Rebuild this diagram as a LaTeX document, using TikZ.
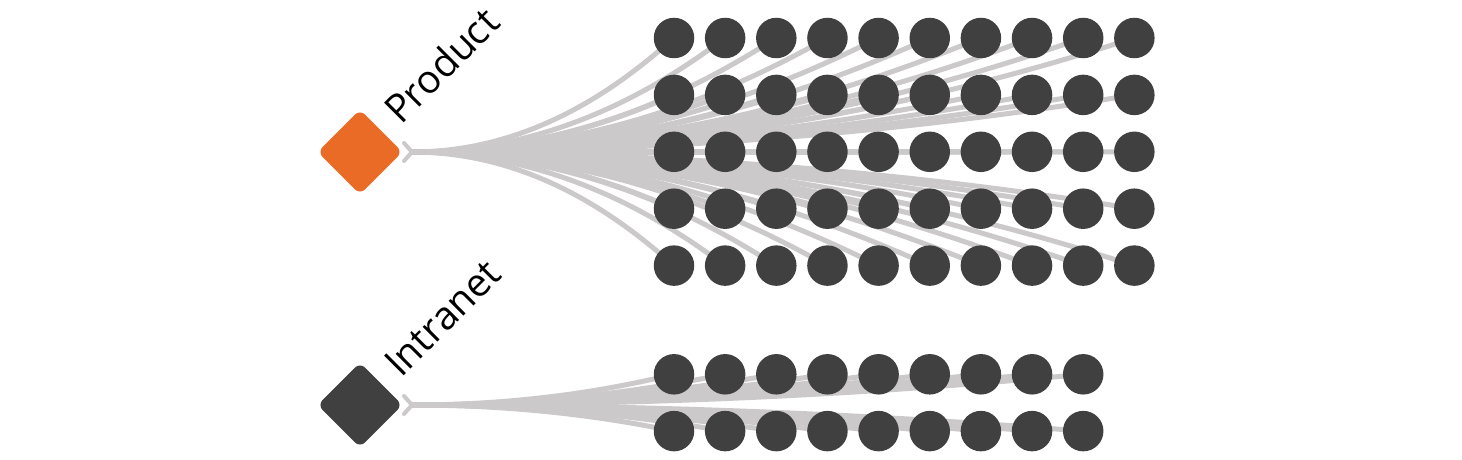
\documentclass[tikz,border=0pt]{standalone}
\usepackage{fontspec}
\setmainfont{Open Sans}
\definecolor{edgegray}{HTML}{CBC9C9}
\definecolor{dotgray}{HTML}{404040}
\definecolor{prodorange}{HTML}{E96B26}
\pgfdeclarelayer{bg}
\pgfsetlayers{bg,main}
\tikzset{
  x=1pt, y=1pt,
  dot/.style={circle, fill=dotgray, minimum size=40.5pt, inner sep=0pt},
  rootbox/.style={rectangle, rotate=45, minimum size=60pt, inner sep=0pt, rounded corners=7pt},
  edge/.style={draw=edgegray, line width=5pt},
  fork/.style={draw=edgegray, line width=4pt, line cap=round, line join=round},
  lbl/.style={rotate=45, anchor=base west, inner sep=0pt, font=\fontsize{39}{46}\selectfont}
}
\begin{document}
\begin{tikzpicture}
\useasboundingbox (0,0) rectangle (1462,-460);
% root nodes
\node[rootbox, fill=prodorange] (prod) at (360,-152) {};
\node[rootbox, fill=dotgray] (intra) at (360,-405) {};
\node[lbl] (prodlbl) at (401,-126) {Product};
\node[lbl] (intralbl) at (401,-379) {Intranet};
% junctions
\coordinate (pj) at (412,-152);
\coordinate (pja) at (404,-143);
\coordinate (pjb) at (404,-161);
\coordinate (ij) at (412,-405);
\coordinate (ija) at (404,-396);
\coordinate (ijb) at (404,-414);
% product grid
\foreach \r in {1,...,5} {
  \foreach \c in {1,...,10} {
    \pgfmathsetmacro\px{674+51.15*(\c-1)}
    \pgfmathsetmacro\py{-38-56.9*(\r-1)}
    \node[dot] (p-\r-\c) at (\px,\py) {};
  }
}
% intranet grid
\foreach \r in {1,2} {
  \foreach \c in {1,...,9} {
    \pgfmathsetmacro\px{674+51.15*(\c-1)}
    \pgfmathsetmacro\py{-374.3-56.8*(\r-1)}
    \node[dot] (i-\r-\c) at (\px,\py) {};
  }
}
\begin{pgfonlayer}{bg}
\draw[fork] (pja) -- (pj) -- (pjb);
\draw[fork] (ija) -- (ij) -- (ijb);
\foreach \r in {1,...,5} {
  \foreach \c in {1,...,10} {
    \pgfmathsetmacro\dx{674+51.15*(\c-1)-412}
    \pgfmathsetmacro\dy{-38-56.9*(\r-1)+152}
    \pgfmathsetmacro\ax{0.5*\dx}
    \pgfmathsetmacro\bx{-0.15*\dx}
    \pgfmathsetmacro\by{-0.3*\dy}
    \draw[edge] (pj) .. controls +(\ax,0) and +(\bx,\by) .. (p-\r-\c.center);
  }
}
\foreach \r in {1,2} {
  \foreach \c in {1,...,9} {
    \pgfmathsetmacro\dx{674+51.15*(\c-1)-412}
    \pgfmathsetmacro\dy{-374.3-56.8*(\r-1)+405}
    \pgfmathsetmacro\ax{0.5*\dx}
    \pgfmathsetmacro\bx{-0.15*\dx}
    \pgfmathsetmacro\by{-0.3*\dy}
    \draw[edge] (ij) .. controls +(\ax,0) and +(\bx,\by) .. (i-\r-\c.center);
  }
}
\end{pgfonlayer}
\end{tikzpicture}
\end{document}
